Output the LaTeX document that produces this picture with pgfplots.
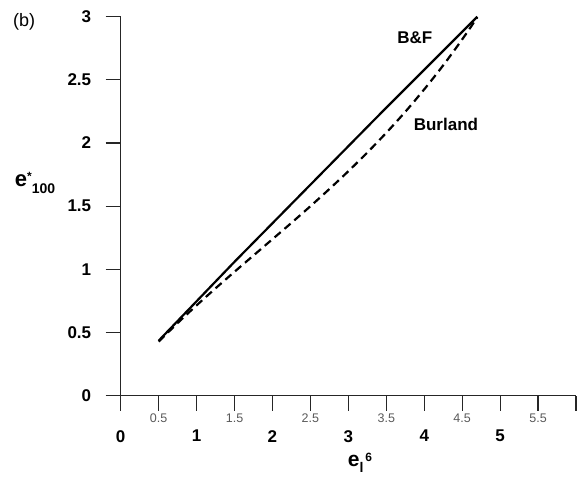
\documentclass[border=0pt]{standalone}
\usepackage{fontspec}
\setmainfont{Liberation Sans}
\usepackage{pgfplots}
\pgfplotsset{compat=1.18}
\begin{document}
\begin{tikzpicture}
\useasboundingbox (0pt,0pt) rectangle (582pt,482pt);
\begin{axis}[
  at={(120.7pt,86.3pt)}, anchor=south west,
  scale only axis, width=455.3pt, height=379pt,
  xmin=0, xmax=6, ymin=0, ymax=3,
  axis lines=left,
  axis line style={-, line width=1.2pt, black!85},
  tick align=outside, major tick length=15pt,
  tick style={line width=1.2pt, black!85},
  xtick={0,1,2,3,4,5}, xticklabels={0,1,2,3,4,5},
  extra x ticks={0.5,1.5,2.5,3.5,4.5,5.5,6},
  extra x tick labels={0.5,1.5,2.5,3.5,4.5,5.5,{}},
  extra x tick style={xticklabel style={font=\fontsize{12.5}{12.5}\selectfont\mdseries, text=black!65, yshift=16pt}},
  xticklabel style={font=\fontsize{17}{17}\selectfont\bfseries, yshift=-16pt},
  ytick={0,0.5,1,1.5,2,2.5,3},
  yticklabel style={font=\fontsize{17}{17}\selectfont\bfseries, xshift=-11pt},
  /pgf/number format/assume math mode=true,
  clip=false,
]
% B&F
\addplot[black, line width=2.2pt, no markers] coordinates {
(0.5,0.435) (1.5,1.06) (2.5,1.67) (3.5,2.28) (4.7,3.0)
};
% Burland
\addplot[black, line width=2.2pt, dash pattern=on 8pt off 5pt, no markers, smooth] coordinates {
(0.5,0.428) (0.75,0.575) (1.0,0.715) (1.25,0.850) (1.5,0.981) (1.75,1.110)
(2.0,1.239) (2.25,1.368) (2.5,1.500) (2.75,1.636) (3.0,1.777) (3.25,1.925)
(3.5,2.081) (3.75,2.247) (4.0,2.425) (4.25,2.615) (4.5,2.820) (4.7,2.995)
};
\node[font=\fontsize{17}{17}\selectfont\bfseries] at (axis cs:3.877,2.83) {B\&F};
\node[font=\fontsize{17}{17}\selectfont\bfseries] at (axis cs:4.286,2.149) {Burland};
\node[font=\fontsize{18}{18}\selectfont] at (axis cs:-1.274,2.956) {(b)};
\node at (axis cs:-1.129,1.683) {\bfseries{\fontsize{22}{22}\selectfont e}\raisebox{6pt}{\fontsize{12}{12}\selectfont *}\raisebox{-7pt}{\fontsize{14}{14}\selectfont 100}};
\node at (axis cs:3.153,-0.532) {\bfseries{\fontsize{21}{21}\selectfont e}\raisebox{-6pt}{\fontsize{14}{14}\selectfont l}\hspace{2pt}\raisebox{5pt}{\fontsize{12}{12}\selectfont 6}};
\end{axis}
\end{tikzpicture}
\end{document}
